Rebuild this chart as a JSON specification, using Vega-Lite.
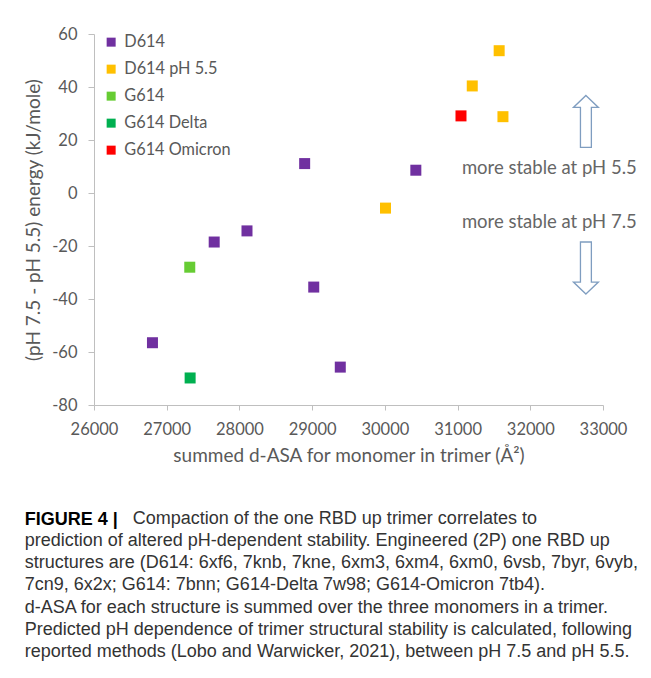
{
  "$schema": "https://vega.github.io/schema/vega-lite/v6.json",
  "autosize": "none",
  "padding": {"left": 94, "top": 34, "right": 48, "bottom": 273},
  "width": 509,
  "height": 371,
  "background": "white",
  "title": {
    "text": "FIGURE 4 |",
    "subtitle": [
      "\u200b\u2003\u2003\u2003\u2003\u2003\u2003Compaction of the one RBD up trimer correlates to",
      "prediction of altered pH-dependent stability. Engineered (2P) one RBD up",
      "structures are (D614: 6xf6, 7knb, 7kne, 6xm3, 6xm4, 6xm0, 6vsb, 7byr, 6vyb,",
      "7cn9, 6x2x; G614: 7bnn; G614-Delta 7w98; G614-Omicron 7tb4).",
      "d-ASA for each structure is summed over the three monomers in a trimer.",
      "Predicted pH dependence of trimer structural stability is calculated, following",
      "reported methods (Lobo and Warwicker, 2021), between pH 7.5 and pH 5.5."
    ],
    "orient": "bottom",
    "anchor": "start",
    "frame": "bounds",
    "dx": 0,
    "font": "Liberation Sans",
    "fontSize": 18,
    "fontWeight": "bold",
    "color": "#000000",
    "subtitleFont": "Liberation Sans",
    "subtitleFontSize": 18,
    "subtitleColor": "#333333",
    "subtitleLineHeight": 22.3,
    "subtitlePadding": -19,
    "offset": 45
  },
  "config": {
    "view": {"stroke": null},
    "axis": {
      "grid": false,
      "domainColor": "#bfbfbf",
      "tickColor": "#bfbfbf",
      "labelFont": "Lato",
      "labelFontSize": 16.5,
      "labelColor": "#595959",
      "titleFont": "Lato",
      "titleFontSize": 19,
      "titleFontWeight": "normal",
      "titleColor": "#595959"
    },
    "legend": {
      "labelFont": "Lato",
      "labelFontSize": 16.3,
      "labelColor": "#595959"
    }
  },
  "layer": [
    {
      "mark": {"type": "rule", "color": "#a6a6a6", "strokeWidth": 1},
      "encoding": {
        "x": {"datum": 26000, "type": "quantitative", "scale": {"domain": [26000, 33000], "nice": false}},
        "x2": {"datum": 32920},
        "y": {"datum": 0, "type": "quantitative", "scale": {"domain": [-80, 60], "nice": false}}
      }
    },
    {
      "data": {
        "values": [
          {"asa": 28897, "energy": 11.1, "group": "D614"},
          {"asa": 30426, "energy": 8.6, "group": "D614"},
          {"asa": 28104, "energy": -14.3, "group": "D614"},
          {"asa": 27653, "energy": -18.5, "group": "D614"},
          {"asa": 29022, "energy": -35.5, "group": "D614"},
          {"asa": 26804, "energy": -56.5, "group": "D614"},
          {"asa": 29387, "energy": -65.7, "group": "D614"},
          {"asa": 31572, "energy": 53.7, "group": "D614 pH 5.5"},
          {"asa": 31202, "energy": 40.4, "group": "D614 pH 5.5"},
          {"asa": 31624, "energy": 28.8, "group": "D614 pH 5.5"},
          {"asa": 30009, "energy": -5.7, "group": "D614 pH 5.5"},
          {"asa": 27317, "energy": -28.0, "group": "G614"},
          {"asa": 27322, "energy": -69.8, "group": "G614 Delta"},
          {"asa": 31047, "energy": 29.1, "group": "G614 Omicron"}
        ]
      },
      "mark": {"type": "point", "shape": "square", "filled": true, "size": 121, "opacity": 1, "strokeWidth": 0},
      "encoding": {
        "x": {
          "field": "asa", "type": "quantitative",
          "scale": {"domain": [26000, 33000], "nice": false, "zero": false},
          "axis": {
            "values": [26000, 27000, 28000, 29000, 30000, 31000, 32000, 33000],
            "format": "d",
            "labelFlush": false,
            "labelOverlap": false,
            "tickSize": 5,
            "labelPadding": 11,
            "titlePadding": 9,
            "title": "summed d-ASA for monomer in trimer (Å²)"
          }
        },
        "y": {
          "field": "energy", "type": "quantitative",
          "scale": {"domain": [-80, 60], "nice": false, "zero": false},
          "axis": {
            "values": [-80, -60, -40, -20, 0, 20, 40, 60],
            "labelExpr": "replace(datum.label, '\u2212', '-')",
            "labelFlush": false,
            "labelOverlap": false,
            "tickSize": 6,
            "labelPadding": 11,
            "titlePadding": 8,
            "title": "(pH 7.5 - pH 5.5) energy (kJ/mole)"
          }
        },
        "color": {
          "field": "group", "type": "nominal",
          "scale": {
            "domain": ["D614", "D614 pH 5.5", "G614", "G614 Delta", "G614 Omicron"],
            "range": ["#7030A0", "#FFC000", "#66CC33", "#00B050", "#FF0000"]
          },
          "legend": {
            "title": null,
            "orient": "none",
            "legendX": 9,
            "legendY": 0,
            "symbolType": "square",
            "symbolSize": 81,
            "symbolStrokeWidth": 0,
            "labelOffset": 5,
            "rowPadding": 10,
            "padding": 0
          }
        }
      }
    },
    {
      "data": {
        "values": [
          {"asa": 32262, "energy": 9.6, "label": "more stable at pH 5.5"},
          {"asa": 32262, "energy": -10.8, "label": "more stable at pH 7.5"}
        ]
      },
      "mark": {"type": "text", "font": "Lato", "fontSize": 18.5, "color": "#666666", "align": "center", "baseline": "middle"},
      "encoding": {
        "x": {"field": "asa", "type": "quantitative"},
        "y": {"field": "energy", "type": "quantitative"},
        "text": {"field": "label"}
      }
    },
    {
      "data": {"values": [{"asa": 32765, "energy": 27}]},
      "mark": {
        "type": "point",
        "shape": "M0,-1L0.48,-0.54L0.21,-0.54L0.21,1L-0.21,1L-0.21,-0.54L-0.48,-0.54Z",
        "size": 2704, "filled": true, "fill": "white", "stroke": "#7f9dc0", "strokeWidth": 1.3, "opacity": 1
      },
      "encoding": {
        "x": {"field": "asa", "type": "quantitative"},
        "y": {"field": "energy", "type": "quantitative"}
      }
    },
    {
      "data": {"values": [{"asa": 32765, "energy": -28.3}]},
      "mark": {
        "type": "point",
        "shape": "M0,1L0.48,0.54L0.21,0.54L0.21,-1L-0.21,-1L-0.21,0.54L-0.48,0.54Z",
        "size": 2704, "filled": true, "fill": "white", "stroke": "#7f9dc0", "strokeWidth": 1.3, "opacity": 1
      },
      "encoding": {
        "x": {"field": "asa", "type": "quantitative"},
        "y": {"field": "energy", "type": "quantitative"}
      }
    }
  ]
}
